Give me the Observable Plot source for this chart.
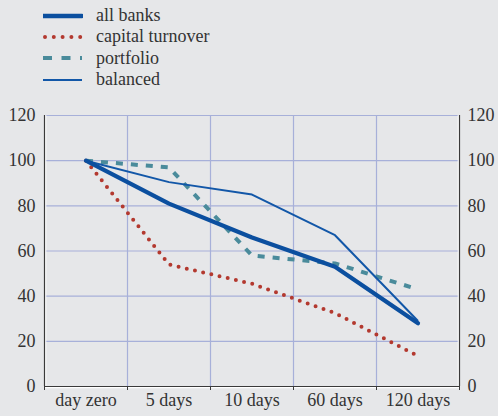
<!DOCTYPE html>
<html>
<head>
<meta charset="utf-8">
<script src="https://cdn.jsdelivr.net/npm/d3@7"></script>
<script src="https://cdn.jsdelivr.net/npm/@observablehq/plot@0.6"></script>
<style>
  body { margin: 0; background: #e6e7e9; }
  #wrap { position: relative; width: 498px; height: 416px; background: #e6e7e9; font-family: "Liberation Serif", "DejaVu Serif", "Noto Serif", FreeSerif, Tinos, Times, "Times New Roman", serif; }
  #legend { position: absolute; left: 43px; top: 5px; font-size: 18px; color: #333; }
  .row { display: flex; align-items: center; height: 21.3px; }
  .row svg { width: 40px; height: 12px; margin-right: 13px; }
  #chart svg text { font-family: "Liberation Serif", "DejaVu Serif", "Noto Serif", FreeSerif, Tinos, Times, "Times New Roman", serif; }
</style>
</head>
<body>
<div id="wrap">
  <div id="legend"></div>
  <div id="chart"></div>
</div>
<script>
const categories = ["day zero", "5 days", "10 days", "60 days", "120 days"];
const allBanks = [100, 81, 66, 53, 28];
const capitalTurnover = [100, 54, 45.5, 32.5, 13.5];
const portfolio = [100, 97, 58, 54.5, 43];
const balanced = [100, 90.5, 85, 67, 29];
const yTicks = [0, 20, 40, 60, 80, 100, 120];

const seriesDefs = [
  {name: "all banks", values: allBanks, stroke: "#0b4f9f", strokeWidth: 4.2, dash: null, cap: "round"},
  {name: "capital turnover", values: capitalTurnover, stroke: "#b3392f", strokeWidth: 4, dash: "0 8.4", cap: "round"},
  {name: "portfolio", values: portfolio, stroke: "#4a8b9b", strokeWidth: 4, dash: "7 8", cap: "butt"},
  {name: "balanced", values: balanced, stroke: "#1257a8", strokeWidth: 2, dash: null, cap: "butt"}
];

const rows = seriesDefs.flatMap(s => s.values.map((v, i) => ({series: s.name, i, v})));

const drawOrder = ["portfolio", "capital turnover", "balanced", "all banks"];
const lineMarks = drawOrder.map(n => {
  const s = seriesDefs.find(d => d.name === n);
  return Plot.line(rows.filter(r => r.series === n), {
    x: "i", y: "v", stroke: s.stroke, strokeWidth: s.strokeWidth,
    strokeDasharray: s.dash, strokeLinecap: s.cap, strokeLinejoin: "round"
  });
});

const idx = categories.map((c, i) => i);
const bounds = [-0.5, ...idx.map(i => i + 0.5)];
const inner = bounds.slice(1, -1);
const serif = "'Liberation Serif', 'DejaVu Serif', 'Noto Serif', FreeSerif, Tinos, Times, 'Times New Roman', serif";

const chart = Plot.plot({
  width: 498,
  height: 416,
  marginTop: 115,
  marginBottom: 30,
  marginLeft: 44,
  marginRight: 39,
  style: {background: "transparent", fontFamily: serif, fontSize: "18px", color: "#333"},
  x: {type: "linear", domain: [-0.5, categories.length - 0.5]},
  y: {domain: [0, 120]},
  marks: [
    Plot.ruleY(yTicks.filter(t => t > 0), {stroke: "#a7b0d9", strokeWidth: 1.2, strokeOpacity: 1}),
    Plot.ruleX(inner, {y1: 0, y2: 120, stroke: "#a7b0d9", strokeWidth: 1.2, strokeOpacity: 1}),
    Plot.ruleX([-0.5], {y1: 0, y2: 120, stroke: "#ffffff", strokeWidth: 1.2, dx: 1.2}),
    Plot.ruleX([-0.5], {y1: 0, y2: 120, stroke: "#3a3a3a", strokeWidth: 1.2}),
    Plot.ruleX([categories.length - 0.5], {y1: 0, y2: 120, stroke: "#ffffff", strokeWidth: 1.2, dx: -1.2}),
    Plot.ruleX([categories.length - 0.5], {y1: 0, y2: 120, stroke: "#3a3a3a", strokeWidth: 1.2}),
    Plot.ruleY([0], {stroke: "#ffffff", strokeWidth: 1.2, dy: 1.2}),
    Plot.ruleY([0], {stroke: "#3a3a3a", strokeWidth: 1.2}),
    Plot.axisX({ticks: bounds, tickSize: 4, tickFormat: () => "", stroke: "#3a3a3a", label: null}),
    Plot.axisX({ticks: idx, tickSize: 0, tickPadding: 7, tickFormat: i => categories[i], fill: "#333", label: null}),
    Plot.axisY({anchor: "left", ticks: yTicks, tickSize: 0, tickPadding: 9, fill: "#333", label: null}),
    Plot.axisY({anchor: "right", ticks: yTicks, tickSize: 0, tickPadding: 8, fill: "#333", label: null}),
    ...lineMarks
  ]
});
document.getElementById("chart").appendChild(chart);

const legend = document.getElementById("legend");
for (const s of seriesDefs) {
  const row = document.createElement("div");
  row.className = "row";
  const sw = s.name === "all banks" ? 4.5 : s.strokeWidth;
  const dash = s.dash ? `stroke-dasharray="${s.name === "capital turnover" ? "0 8.8" : "9 9.5"}"` : "";
  const x1 = s.name === "capital turnover" ? 2 : 0;
  row.innerHTML = `<svg viewBox="0 0 40 12"><line x1="${x1}" x2="39" y1="6" y2="6" stroke="${s.stroke}" stroke-width="${sw}" stroke-linecap="${s.cap}" ${dash}/></svg><span>${s.name}</span>`;
  legend.appendChild(row);
}
</script>
</body>
</html>
